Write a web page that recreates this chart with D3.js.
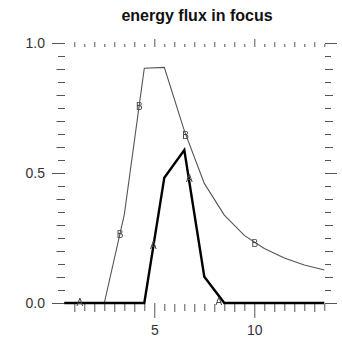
<!DOCTYPE html>
<html>
<head>
<meta charset="utf-8">
<script src="https://cdn.jsdelivr.net/npm/d3@7"></script>
<style>
  html, body { margin: 0; padding: 0; background: #fff; }
  svg { display: block; }
  text { font-family: "Liberation Sans", Arial, sans-serif; }
</style>
</head>
<body>
<svg id="chart" width="342" height="341"></svg>
<script>
// ---- data ----
const title = "energy flux in focus";
const xValues = [0.5, 1.5, 2.5, 3.5, 4.5, 5.5, 6.5, 7.5, 8.5, 9.5, 10.5, 11.5, 12.5, 13.5];
const seriesA = [0, 0, 0, 0, 0, 0.482, 0.588, 0.101, 0, 0, 0, 0, 0, 0];
const seriesB = [0, 0, 0, 0.34, 0.903, 0.906, 0.663, 0.46, 0.338, 0.26, 0.21, 0.173, 0.146, 0.127];
const markersAx = [1.28, 4.95, 6.75, 8.23];
const markersAy = [0.004, 0.223, 0.48, 0.005];
const markersBx = [3.29, 4.25, 6.57, 10.03];
const markersBy = [0.264, 0.755, 0.646, 0.23];
const xMajorTicks = [5, 10];
const yMajorTicks = [0.0, 0.5, 1.0];
const yTickLabels = ["0.0", "0.5", "1.0"];

// ---- layout ----
const svg = d3.select("#chart");
const defs = svg.append("defs");
defs.append("filter").attr("id", "gray")
  .append("feColorMatrix").attr("type", "saturate").attr("values", 0);

const x = d3.scaleLinear().domain([0.5, 13.5]).range([64.3, 324.3]);
const y = d3.scaleLinear().domain([0, 1]).range([303, 43]);
const tickColor = "#555";

const xHalf = d3.range(1.5, 13.6, 1);
const xInt = d3.range(1, 13.1, 1).filter(v => v % 5 !== 0);
const y05 = d3.range(0.05, 1.0, 0.1).map(v => +v.toFixed(2));
const y01 = d3.range(0.1, 1.0, 0.1).map(v => +v.toFixed(2)).filter(v => v !== 0.5);

function styleAxis(g) {
  g.select(".domain").remove();
  g.selectAll(".tick line").attr("stroke", tickColor);
  g.selectAll(".tick text").attr("fill", "#333").style("font-size", "14px")
    .style("font-family", "'Liberation Sans', Arial, sans-serif");
}

// bottom axis
const bY = 304;
svg.append("g").attr("transform", `translate(0,${bY})`)
  .call(d3.axisBottom(x).tickValues(xHalf).tickSize(7).tickFormat("")).call(styleAxis);
svg.append("g").attr("transform", `translate(0,${bY})`)
  .call(d3.axisBottom(x).tickValues(xInt).tickSize(8).tickFormat("")).call(styleAxis);
svg.append("g").attr("transform", `translate(0,${bY - 1})`)
  .call(d3.axisBottom(x).tickValues(xMajorTicks).tickSize(15).tickPadding(7).tickFormat(d3.format("d"))).call(styleAxis);

// top axis
const tY = 47;
svg.append("g").attr("transform", `translate(0,${tY})`)
  .call(d3.axisTop(x).tickValues(xHalf).tickSize(3).tickFormat("")).call(styleAxis);
svg.append("g").attr("transform", `translate(0,${tY})`)
  .call(d3.axisTop(x).tickValues(xInt).tickSize(5).tickFormat("")).call(styleAxis);
svg.append("g").attr("transform", `translate(0,${tY})`)
  .call(d3.axisTop(x).tickValues(xMajorTicks).tickSize(8).tickFormat("")).call(styleAxis);

// left axis
const lX = 65;
svg.append("g").attr("transform", `translate(${lX},0)`)
  .call(d3.axisLeft(y).tickValues(y05).tickSize(7).tickFormat("")).call(styleAxis);
svg.append("g").attr("transform", `translate(${lX},0)`)
  .call(d3.axisLeft(y).tickValues(y01).tickSize(8.5).tickFormat("")).call(styleAxis);
svg.append("g").attr("transform", `translate(${lX},0)`)
  .call(d3.axisLeft(y).tickValues(yMajorTicks).tickSize(13).tickPadding(7)
    .tickFormat((d, i) => yTickLabels[i])).call(styleAxis);

// right axis
const rX = 325;
svg.append("g").attr("transform", `translate(${rX},0)`)
  .call(d3.axisRight(y).tickValues(y05).tickSize(6).tickFormat("")).call(styleAxis);
svg.append("g").attr("transform", `translate(${rX},0)`)
  .call(d3.axisRight(y).tickValues(y01).tickSize(8).tickFormat("")).call(styleAxis);
svg.append("g").attr("transform", `translate(${rX},0)`)
  .call(d3.axisRight(y).tickValues(yMajorTicks).tickSize(12).tickFormat("")).call(styleAxis);

// lines
const line = d3.line().x(d => x(d[0])).y(d => y(d[1]));
svg.append("path").datum(xValues.map((v, i) => [v, seriesB[i]]))
  .attr("d", line).attr("fill", "none").attr("stroke", "#555").attr("stroke-width", 1.1);
svg.append("path").datum(xValues.map((v, i) => [v, seriesA[i]]))
  .attr("d", line).attr("fill", "none").attr("stroke", "#000").attr("stroke-width", 2.4)
  .attr("stroke-linejoin", "miter");

// markers
function markers(xs, ys, label) {
  svg.append("g").attr("filter", "url(#gray)").selectAll("text").data(xs.map((v, i) => [v, ys[i]])).join("text")
    .attr("x", d => x(d[0])).attr("y", d => y(d[1]))
    .attr("text-anchor", "middle").attr("dy", "0.36em")
    .style("font-size", "10px").attr("fill", "#444").text(label);
}
markers(markersBx, markersBy, "B");
markers(markersAx, markersAy, "A");

// title
svg.append("text").attr("x", 197).attr("y", 21).attr("text-anchor", "middle")
  .style("font-size", "16px").style("font-weight", "bold").attr("fill", "#111").text(title);
</script>
</body>
</html>
